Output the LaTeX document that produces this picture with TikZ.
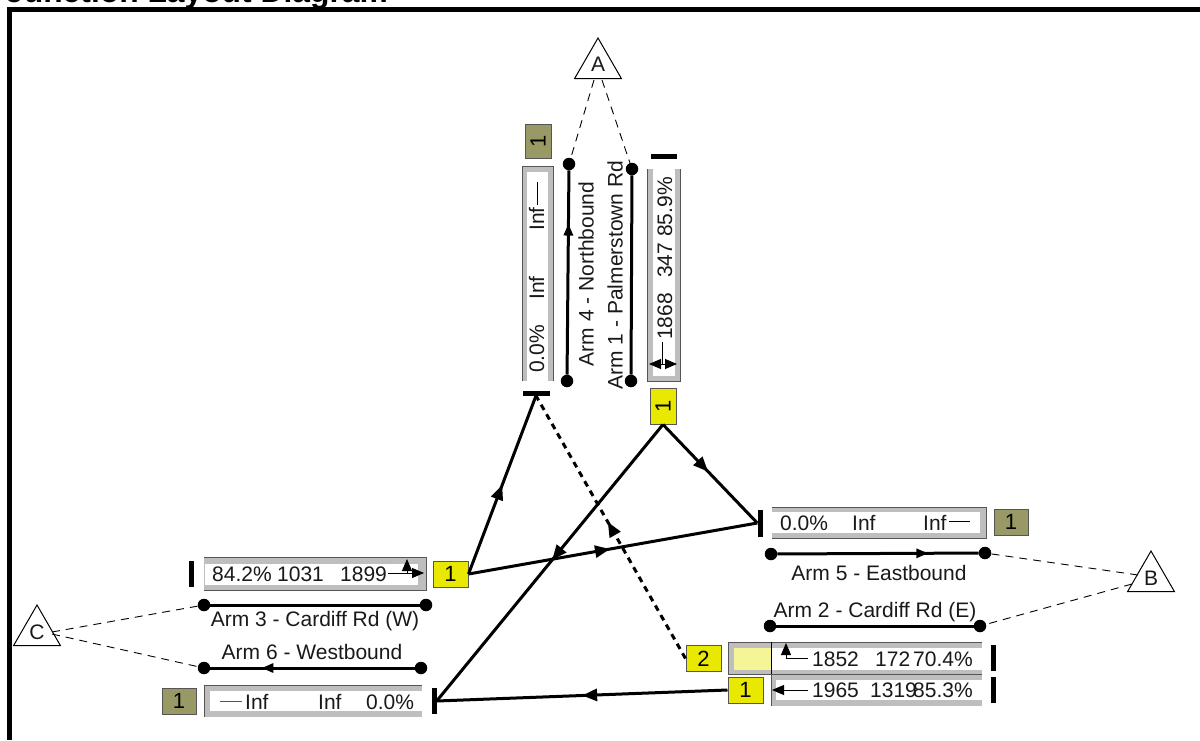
\documentclass[tikz,border=0pt]{standalone}
\usepackage{fontspec}
\setmainfont{Liberation Sans}
\usetikzlibrary{shapes.geometric,arrows.meta,decorations.markings}
\definecolor{boxgray}{HTML}{BEBEBE}
\definecolor{edgegray}{HTML}{555555}
\definecolor{sigyellow}{HTML}{E8E800}
\definecolor{sigolive}{HTML}{999966}
\definecolor{paleyellow}{HTML}{F5F598}
\tikzset{
  x=1pt,y=-1pt,
  lbl/.style={font=\fontsize{21}{23}\selectfont,inner sep=0pt,text=black!90},
  val/.style={lbl,anchor=base west},
  vval/.style={lbl,anchor=base west,rotate=90},
  tri/.style={regular polygon,regular polygon sides=3,draw,line width=1pt,fill=white,minimum size=54pt,inner sep=0pt},
  tritext/.style={font=\fontsize{21}{23}\selectfont,inner sep=0pt,text=black!90},
  badge/.style={draw=edgegray,line width=1pt,inner sep=0pt,font=\fontsize{22}{24}\selectfont},
  ybadge/.style={badge,fill=sigyellow,minimum width=35pt,minimum height=26pt},
  ybadgev/.style={badge,fill=sigyellow,minimum width=26pt,minimum height=36pt},
  obadge/.style={badge,fill=sigolive,minimum width=34pt,minimum height=26pt},
  obadgev/.style={badge,fill=sigolive,minimum width=26pt,minimum height=34pt},
  stopbar/.style={fill=black,inner sep=0pt},
  dot/.style={circle,fill=black,inner sep=0pt,minimum size=12.5pt},
  armline/.style={line width=3pt},
  conn/.style={line width=3pt},
  leader/.style={dash pattern=on 8pt off 6pt,line width=0.9pt},
  thin arrow/.style={line width=0.9pt},
  midtip/.style={postaction={decorate,decoration={markings,mark=at position #1 with {\arrow{Triangle[length=15pt,width=12pt]}}}}},
  armtip/.style={postaction={decorate,decoration={markings,mark=at position #1 with {\arrow{Triangle[length=12pt,width=9pt]}}}}},
  tip/.style={-{Triangle[length=12pt,width=10pt]}},
}
\begin{document}
\begin{tikzpicture}
\useasboundingbox (0,0) rectangle (1200,740);
\clip (0,0) rectangle (1200,740);
% title and frame
\node[font=\bfseries\fontsize{31.8}{34}\selectfont,anchor=base west,inner sep=0pt] (title) at (6,2) {Junction Layout Diagram};
\draw[line width=5pt] (9.5,740) -- (9.5,9.5) -- (1200,9.5);

% arm line ends
\node[dot] (a4t) at (569,164) {};
\node[dot] (a4b) at (567,381) {};
\node[dot] (a1t) at (632,169) {};
\node[dot] (a1b) at (631,381) {};
\node[dot] (a5l) at (771,554) {};
\node[dot] (a5r) at (985,553) {};
\node[dot] (a2l) at (770,626) {};
\node[dot] (a2r) at (980,626) {};
\node[dot] (a3l) at (204,605) {};
\node[dot] (a3r) at (426,605) {};
\node[dot] (a6l) at (204,668) {};
\node[dot] (a6r) at (421,668) {};
\draw[armline,armtip=0.74] (a4b) -- (a4t);
\draw[armline] (a1b) -- (a1t);
\draw[armline,armtip=0.75] (a5l) -- (a5r);
\draw[armline] (a2l) -- (a2r);
\draw[armline] (a3l) -- (a3r);
\draw[armline,armtip=0.75] (a6r) -- (a6l);

% leaders
\coordinate (Al) at (594,80);
\coordinate (Ar) at (602,80);
\coordinate (Bu) at (1138,575);
\coordinate (Bd) at (1132,584);
\coordinate (Cu) at (52,632);
\coordinate (Cd) at (52,634);
\draw[leader] (Al) -- (a4t);
\draw[leader] (Ar) -- (a1t);
\draw[leader] (Bu) -- (a5r);
\draw[leader] (Bd) -- (a2r);
\draw[leader] (Cu) -- (a3l);
\draw[leader] (Cd) -- (a6l);

% triangles
\node[tri,fill=none] (A) at (598,65) {};
\node[tri,fill=none] (B) at (1151,578) {};
\node[tri,fill=none] (C) at (37,632) {};
\node[tritext] (Atxt) at (598,64) {A};
\node[tritext] (Btxt) at (1151,578) {B};
\node[tritext] (Ctxt) at (37,632) {C};

% arm labels
\node[lbl] (l4) at (586,274) [rotate=90] {Arm 4 - Northbound};
\node[lbl] (l1) at (615,275) [rotate=90] {Arm 1 - Palmerstown Rd};
\node[lbl] (l5) at (879,573) {Arm 5 - Eastbound};
\node[lbl] (l2) at (875,612) {Arm 2 - Cardiff Rd (E)};
\node[lbl] (l3) at (315,621) {Arm 3 - Cardiff Rd (W)};
\node[lbl] (l6) at (312,652) {Arm 6 - Westbound};

% arm 3 box
\fill[boxgray] (204,557) rectangle (426,590);
\fill[white] (205,564) rectangle (418,585);
\draw[edgegray,line width=1pt] (204,590) -- (426,590) -- (426,557) -- (204,557);
\node[val] (t31) at (212,581) {84.2\%};
\node[val] (t32) at (277,581) {1031};
\node[val] (t33) at (340,581) {1899};
\coordinate (s3a) at (388,573);
\coordinate (s3b) at (424,573);
\coordinate (s3c) at (407,573);
\coordinate (s3d) at (407,559);
\draw[thin arrow,tip] (s3a) -- (s3b);
\draw[thin arrow,tip] (s3c) -- (s3d);

% arm 6 box
\fill[boxgray] (204,685) rectangle (422,717);
\fill[white] (210,691) rectangle (422,711);
\draw[edgegray,line width=1pt] (422,685) -- (204,685) -- (204,717);
\coordinate (s6a) at (220,701);
\coordinate (s6b) at (242,701);
\draw[edgegray,line width=1pt] (s6a) -- (s6b);
\node[val] (t61) at (245,709) {Inf};
\node[val] (t62) at (318,709) {Inf};
\node[val] (t63) at (366,709) {0.0\%};

% arm 5 box
\fill[boxgray] (772,507) rectangle (986,538);
\fill[white] (772,512) rectangle (980,533);
\draw[edgegray,line width=1pt] (772,507) -- (986,507) -- (986,538) -- (772,538);
\node[val] (t51) at (780,530) {0.0\%};
\node[val] (t52) at (852,530) {Inf};
\node[val] (t53) at (923,530) {Inf};
\coordinate (s5a) at (949,521);
\coordinate (s5b) at (970,521);
\draw[black,line width=1pt] (s5a) -- (s5b);

% arm 4 box
\fill[boxgray] (522,166) rectangle (553,381);
\fill[white] (527,172) rectangle (548,381);
\draw[edgegray,line width=1pt] (522,381) -- (522,166) -- (553,166) -- (553,381);
\node[vval] (t41) at (544,373) {0.0\%};
\node[vval] (t42) at (544,300) {Inf};
\node[vval] (t43) at (544,231) {Inf};
\coordinate (s4a) at (537,205);
\coordinate (s4b) at (537,182);
\draw[black,line width=1pt] (s4a) -- (s4b);

% arm 1 box
\fill[boxgray] (647,169) rectangle (680,381);
\fill[white] (653,169) rectangle (675,376);
\draw[edgegray,line width=1pt] (647,169) -- (647,381) -- (680,381) -- (680,169);
\node[vval] (t11) at (672,340) {1868};
\node[vval] (t12) at (672,278) {347};
\node[vval] (t13) at (672,237) {85.9\%};
\coordinate (s1a) at (662,342);
\coordinate (s1b) at (662,364);
\coordinate (s1c) at (649,364);
\coordinate (s1d) at (677,364);
\draw[thin arrow] (s1a) -- (s1b);
\draw[thin arrow,{Triangle[length=12pt,width=10pt]}-{Triangle[length=12pt,width=10pt]}] (s1c) -- (s1d);

% arm 2 boxes
\fill[boxgray] (728,642) rectangle (982,674);
\fill[paleyellow] (734,648) rectangle (771,670);
\fill[white] (771,648) rectangle (982,670);
\draw[edgegray,line width=1pt] (982,642) -- (728,642) -- (728,674) -- (982,674);
\draw[black,line width=1pt] (771,642) -- (771,674);
\node[val] (t21) at (812,666) {1852};
\node[val] (t22) at (875,666) {172};
\node[val] (t23) at (913,666) {70.4\%};
\coordinate (s2a) at (808,658);
\coordinate (s2b) at (786,658);
\coordinate (s2c) at (786,643);
\draw[thin arrow,tip] (s2a) -- (s2b) -- (s2c);
\fill[boxgray] (771,674) rectangle (982,706);
\fill[white] (776,680) rectangle (982,700);
\draw[edgegray,line width=1pt] (982,674) -- (771,674) -- (771,706);
\node[val] (t24) at (812,697) {1965};
\node[val] (t25) at (870,697) {1319};
\node[val] (t26) at (913,697) {85.3\%};
\coordinate (s7a) at (808,690);
\coordinate (s7b) at (772,690);
\draw[thin arrow,tip] (s7a) -- (s7b);

% stop bars
\node[stopbar,minimum width=5pt,minimum height=26pt] (b3) at (191,574) {};
\node[stopbar,minimum width=5pt,minimum height=26pt] (b6) at (434,701) {};
\node[stopbar,minimum width=5pt,minimum height=27pt] (b5) at (760,523) {};
\node[stopbar,minimum width=5pt,minimum height=26pt] (b2a) at (993,658) {};
\node[stopbar,minimum width=5pt,minimum height=26pt] (b2b) at (993,690) {};
\node[stopbar,minimum width=27pt,minimum height=5pt] (b4) at (536,393) {};
\node[stopbar,minimum width=26pt,minimum height=5pt] (b1) at (664,156.5) {};

% signal badges
\node[ybadge] (y3) at (450.5,574) {1};
\node[ybadgev] (y1) at (663,406) {\rotatebox{90}{1}};
\node[ybadge] (y2a) at (703.5,658.5) {2};
\node[ybadge] (y2b) at (745.5,690) {1};
\node[obadgev] (o4) at (538,141) {\rotatebox{90}{1}};
\node[obadge] (o5) at (1011,522) {1};
\node[obadge] (o6) at (179,701) {1};

% connectors
\draw[conn,midtip=0.5] (y3.east) -- (b4.south);
\draw[conn,midtip=0.49] (y3.east) -- (b5.west);
\draw[conn,midtip=0.48] (y1.south) -- (b5.west);
\draw[conn,midtip=0.49] (y1.south) -- (b6.east);
\draw[conn,midtip=0.5] (y2b.west) -- (b6.east);
\draw[conn,dash pattern=on 6pt off 5pt,midtip=0.52] (y2a.west) -- (b4.south);
\end{tikzpicture}
\end{document}
